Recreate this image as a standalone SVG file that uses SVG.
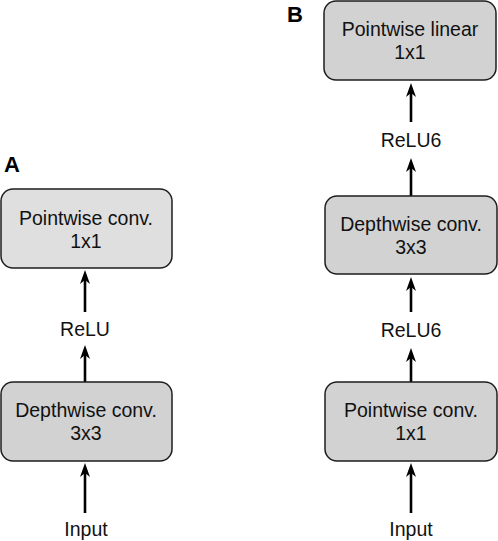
<svg xmlns="http://www.w3.org/2000/svg" width="498" height="541" viewBox="0 0 498 541">
<defs>
<style>
.box{fill:#d2d2d2;stroke:#1e1e1e;stroke-width:1.5}
.light{fill:#dfdfdf}
.t{font-family:"Liberation Sans",Arial,Helvetica,sans-serif;font-size:19.5px;fill:#111;text-anchor:middle}
.lbl{font-family:"Liberation Sans",Arial,Helvetica,sans-serif;font-size:22px;font-weight:bold;fill:#000}
.c{stroke:#000;stroke-width:2.6;fill:none;marker-end:url(#ah)}
</style>
<marker id="ah" viewBox="0 0 14 10" refX="4" refY="5" markerWidth="14" markerHeight="10" markerUnits="userSpaceOnUse" orient="auto">
<path d="M14,5 L0,0 L4,5 L0,10 Z" fill="#000"/>
</marker>
</defs>
<rect width="498" height="541" fill="#fff"/>
<text class="lbl" x="4" y="172">A</text>
<text class="lbl" x="287" y="22">B</text>
<g id="connectors">
<line class="c" x1="85" y1="513" x2="85" y2="473"/>
<line class="c" x1="85" y1="382" x2="85" y2="355"/>
<line class="c" x1="85" y1="312" x2="85" y2="280"/>
<line class="c" x1="411" y1="513" x2="411" y2="473"/>
<line class="c" x1="411" y1="382" x2="411" y2="358"/>
<line class="c" x1="411" y1="312" x2="411" y2="287"/>
<line class="c" x1="411" y1="196" x2="411" y2="168"/>
<line class="c" x1="411" y1="122" x2="411" y2="93"/>
</g>
<g id="a-pointwise">
<rect class="box light" x="1" y="189" width="171" height="79" rx="12"/>
<text class="t" x="86" y="225">Pointwise conv.</text>
<text class="t" x="86" y="248">1x1</text>
</g>
<g id="a-relu"><text class="t" x="85" y="336">ReLU</text></g>
<g id="a-depthwise">
<rect class="box" x="1" y="382" width="171" height="79" rx="12"/>
<text class="t" x="86" y="417">Depthwise conv.</text>
<text class="t" x="86" y="440">3x3</text>
</g>
<g id="a-input"><text class="t" x="86" y="536">Input</text></g>
<g id="b-linear">
<rect class="box" x="324" y="1" width="172" height="79" rx="12"/>
<text class="t" x="410" y="36">Pointwise linear</text>
<text class="t" x="410" y="59">1x1</text>
</g>
<g id="b-relu6-top"><text class="t" x="411" y="147">ReLU6</text></g>
<g id="b-depthwise">
<rect class="box" x="325" y="196" width="172" height="78" rx="12"/>
<text class="t" x="411" y="231">Depthwise conv.</text>
<text class="t" x="411" y="254">3x3</text>
</g>
<g id="b-relu6-mid"><text class="t" x="411" y="337">ReLU6</text></g>
<g id="b-pointwise">
<rect class="box" x="325" y="382" width="172" height="79" rx="12"/>
<text class="t" x="411" y="417">Pointwise conv.</text>
<text class="t" x="411" y="440">1x1</text>
</g>
<g id="b-input"><text class="t" x="411" y="536">Input</text></g>
</svg>
